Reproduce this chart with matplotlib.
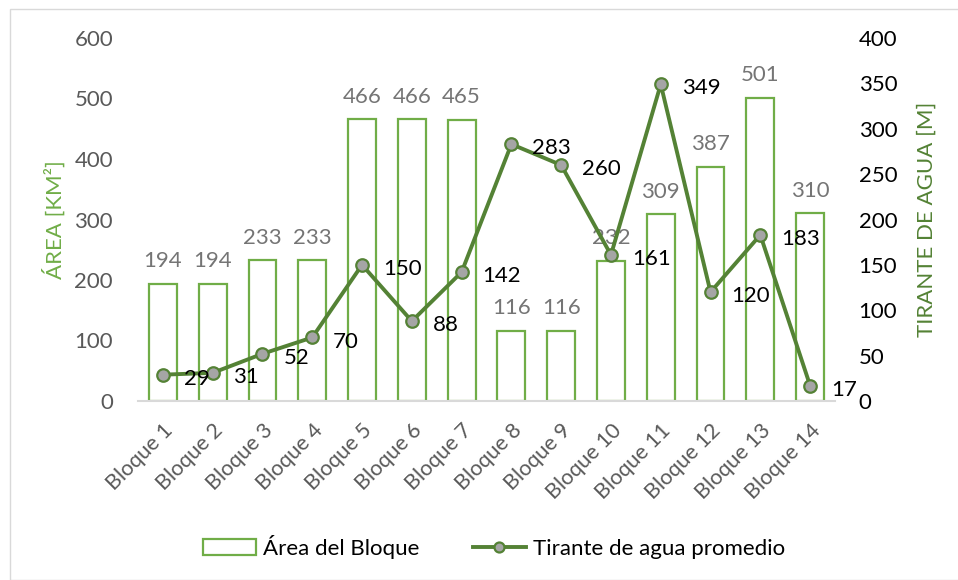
import matplotlib
matplotlib.use("Agg")
import matplotlib.pyplot as plt
from matplotlib.patches import Rectangle
import numpy as np

categories = ["Bloque 1", "Bloque 2", "Bloque 3", "Bloque 4", "Bloque 5", "Bloque 6", "Bloque 7",
              "Bloque 8", "Bloque 9", "Bloque 10", "Bloque 11", "Bloque 12", "Bloque 13", "Bloque 14"]
area = [194, 194, 233, 233, 466, 466, 465, 116, 116, 232, 309, 387, 501, 310]
tirante = [29, 31, 52, 70, 150, 88, 142, 283, 260, 161, 349, 120, 183, 17]
left_ticks = [0, 100, 200, 300, 400, 500, 600]
right_ticks = [0, 50, 100, 150, 200, 250, 300, 350, 400]

plt.rcParams['font.family'] = ['Lato', 'DejaVu Sans']

BAR_GREEN = "#70AD47"
LINE_GREEN = "#548235"
GRAY_TXT = "#595959"
FS = 16

fig = plt.figure(figsize=(9.58, 5.8), dpi=100)
fig.patches.append(Rectangle((10/958, 0), 2, 1 - 9/580, transform=fig.transFigure,
                             fill=False, edgecolor="#D9D9D9", linewidth=1))

ax = fig.add_axes([138/958, 1 - 401/580, (835 - 138)/958, (401 - 38)/580])
ax2 = ax.twinx()

x = np.arange(len(categories))
bars = ax.bar(x, area, width=0.56, facecolor="white", edgecolor=BAR_GREEN, linewidth=1.6, zorder=2)
for xi, v in zip(x, area):
    ax.annotate(f"{v}", (xi, v), xytext=(0, 9), textcoords="offset points",
                ha="center", va="bottom", fontsize=FS, color="#757575")

ax.set_xlim(-0.5, len(categories) - 0.5)
ax.set_ylim(0, 600)
ax.set_yticks(left_ticks)
ax.set_xticks(x)
ax.set_xticklabels(categories, rotation=45, ha="right", rotation_mode="anchor")
ax.tick_params(axis="x", length=0, labelsize=15.5, labelcolor=GRAY_TXT, pad=14)
ax.tick_params(axis="y", length=0, labelsize=FS, labelcolor=GRAY_TXT, pad=18)
for s in ["top", "right", "left"]:
    ax.spines[s].set_visible(False)
ax.spines["bottom"].set_color("#D9D9D9")
ax.spines["bottom"].set_linewidth(1.5)
ax.set_ylabel("ÁREA [KM²]", color=BAR_GREEN, fontsize=FS, labelpad=6)

ax2.plot(x, tirante, color=LINE_GREEN, linewidth=2.8, marker="o", markersize=9,
         markerfacecolor="#A5A5A5", markeredgecolor=LINE_GREEN, markeredgewidth=1.6, zorder=3)
for xi, v in zip(x, tirante):
    ax2.annotate(f"{v}", (xi, v), xytext=(15, -3), textcoords="offset points",
                 ha="left", va="center", fontsize=FS, color="black")
ax2.set_ylim(0, 400)
ax2.set_yticks(right_ticks)
ax2.tick_params(axis="y", length=0, labelsize=FS, labelcolor="black", pad=17)
for s in ["top", "right", "left", "bottom"]:
    ax2.spines[s].set_visible(False)
ax2.set_ylabel("TIRANTE DE AGUA [M]", color=LINE_GREEN, fontsize=FS, labelpad=14)

handles = [bars, ax2.lines[0]]
fig.legend(handles, ["Área del Bloque", "Tirante de agua promedio"], loc="center",
           bbox_to_anchor=(494/958, 1 - 547/580), ncol=2, frameon=False, fontsize=FS,
           handlelength=2.4, columnspacing=2.4, handletextpad=0.3, markerscale=0.8)

fig.savefig("out.png", dpi=100)
